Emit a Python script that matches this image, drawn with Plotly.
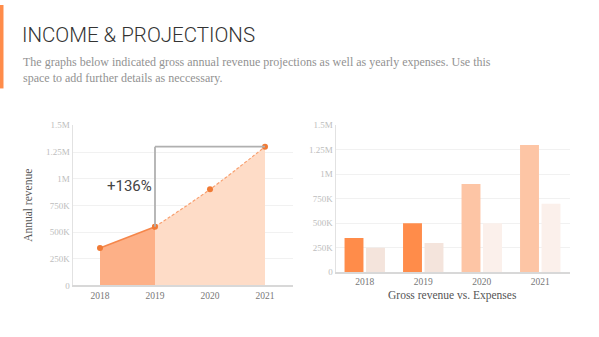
import plotly.graph_objects as go

years = ["2018", "2019", "2020", "2021"]
revenue = [350000, 550000, 900000, 1300000]
gross_revenue = [350000, 500000, 900000, 1300000]
expenses = [250000, 300000, 500000, 700000]
tick_vals = [0, 250000, 500000, 750000, 1000000, 1250000, 1500000]
tick_text = ["0", "250K", "500K", "750K", "1M", "1.25M", "1.5M"]
growth_label = "+136%"

W, H = 599, 337
def px(x): return x / W
def py(y): return 1 - y / H

SERIF = "Liberation Serif, DejaVu Serif, serif"
ORANGE = "#ff8c4a"
DOT = "#f07a35"

fig = go.Figure()
xi = list(range(len(years)))

# left: actual part (2018-2019)
fig.add_trace(go.Scatter(x=xi[:2], y=revenue[:2], mode="lines+markers", fill="tozeroy",
                         fillcolor="#fdb087", line=dict(color="#f5864a", width=1.5, shape="spline"),
                         marker=dict(color=DOT, size=6), xaxis="x", yaxis="y", showlegend=False))
# projection (2019-2021)
fig.add_trace(go.Scatter(x=xi[1:], y=revenue[1:], mode="lines+markers", fill="tozeroy",
                         fillcolor="#fedcc7", line=dict(color="#f8a070", width=1.2, dash="3px,2px", shape="spline"),
                         marker=dict(color=DOT, size=6), xaxis="x", yaxis="y", showlegend=False))

# right: bars
rev_colors = [ORANGE, ORANGE, "#fdc5a5", "#fdc5a5"]
exp_colors = ["#f4e4dc", "#f4e4dc", "#fbf0eb", "#fbf0eb"]
fig.add_trace(go.Bar(x=years, y=gross_revenue, marker=dict(color=rev_colors, line_width=0),
                     xaxis="x2", yaxis="y2", showlegend=False))
fig.add_trace(go.Bar(x=years, y=expenses, marker=dict(color=exp_colors, line_width=0),
                     xaxis="x2", yaxis="y2", showlegend=False))

axis_common_y = dict(range=[0, 1500000], tickvals=tick_vals, ticktext=tick_text,
                     showgrid=True, gridcolor="#f1f1f1", gridwidth=1, zeroline=False,
                     showline=True, linecolor="#e2e2e2", linewidth=1, ticks="",
                     tickfont=dict(family=SERIF, size=9, color="#bdbdbd"), fixedrange=True)

fig.update_layout(
    width=W, height=H, margin=dict(l=0, r=0, t=0, b=0),
    paper_bgcolor="white", plot_bgcolor="white",
    bargap=0.265, bargroupgap=0.12, barmode="group",
    xaxis=dict(domain=[px(72.5), px(292.5)], range=[-0.5, 3.5], tickvals=xi, ticktext=years,
               showgrid=False, zeroline=False, showline=True, linecolor="#d8d8d8", linewidth=1.5,
               tickfont=dict(family=SERIF, size=9.5, color="#777"), ticks=""),
    yaxis=dict(domain=[py(289), py(124)], anchor="x", **axis_common_y),
    xaxis2=dict(domain=[px(335.5), px(569.5)], anchor="y2", type="category",
                showgrid=False, zeroline=False, showline=True, linecolor="#d8d8d8", linewidth=1.5,
                tickfont=dict(family=SERIF, size=9.5, color="#777"), ticks=""),
    yaxis2=dict(domain=[py(275.5), py(124)], anchor="x2", **axis_common_y),
    font=dict(family="Roboto"),
)

# bracket
fig.add_shape(type="line", xref="x", yref="y", x0=1, x1=1, y0=revenue[1], y1=revenue[3],
              line=dict(color="#b0b0b0", width=1.8))
fig.add_shape(type="line", xref="x", yref="y", x0=1, x1=3, y0=revenue[3], y1=revenue[3],
              line=dict(color="#b0b0b0", width=1.8))
fig.add_annotation(x=1, y=930000, xref="x", yref="y", text=growth_label, showarrow=False,
                   xanchor="right", yanchor="middle", xshift=-1,
                   font=dict(family="Roboto", size=15, color="#444"))

# accent bar
fig.add_shape(type="rect", xref="paper", yref="paper", x0=0, x1=px(3.5), y0=py(86), y1=1,
              fillcolor=ORANGE, line_width=0)

fig.add_annotation(x=px(20), y=py(31), xref="paper", yref="paper", xanchor="left", yanchor="middle",
                   text="INCOME & PROJECTIONS", showarrow=False,
                   font=dict(family="Roboto", size=20.5, color="#333", weight=300))
fig.add_annotation(x=px(21), y=py(49), xref="paper", yref="paper", xanchor="left", yanchor="top",
                   align="left", showarrow=False,
                   text="The graphs below indicated gross annual revenue projections as well as yearly expenses. Use this<br>space to add further details as neccessary.",
                   font=dict(family=SERIF, size=12, color="#929292"))
fig.add_annotation(x=px(28), y=py(207), xref="paper", yref="paper", text="Annual revenue",
                   textangle=-90, showarrow=False, xanchor="center", yanchor="middle",
                   font=dict(family=SERIF, size=11.5, color="#555"))
fig.add_annotation(x=px(452), y=py(299), xref="paper", yref="paper", text="Gross revenue vs. Expenses",
                   showarrow=False, xanchor="center", yanchor="middle",
                   font=dict(family=SERIF, size=11.5, color="#555"))

fig.write_html("out.html")
